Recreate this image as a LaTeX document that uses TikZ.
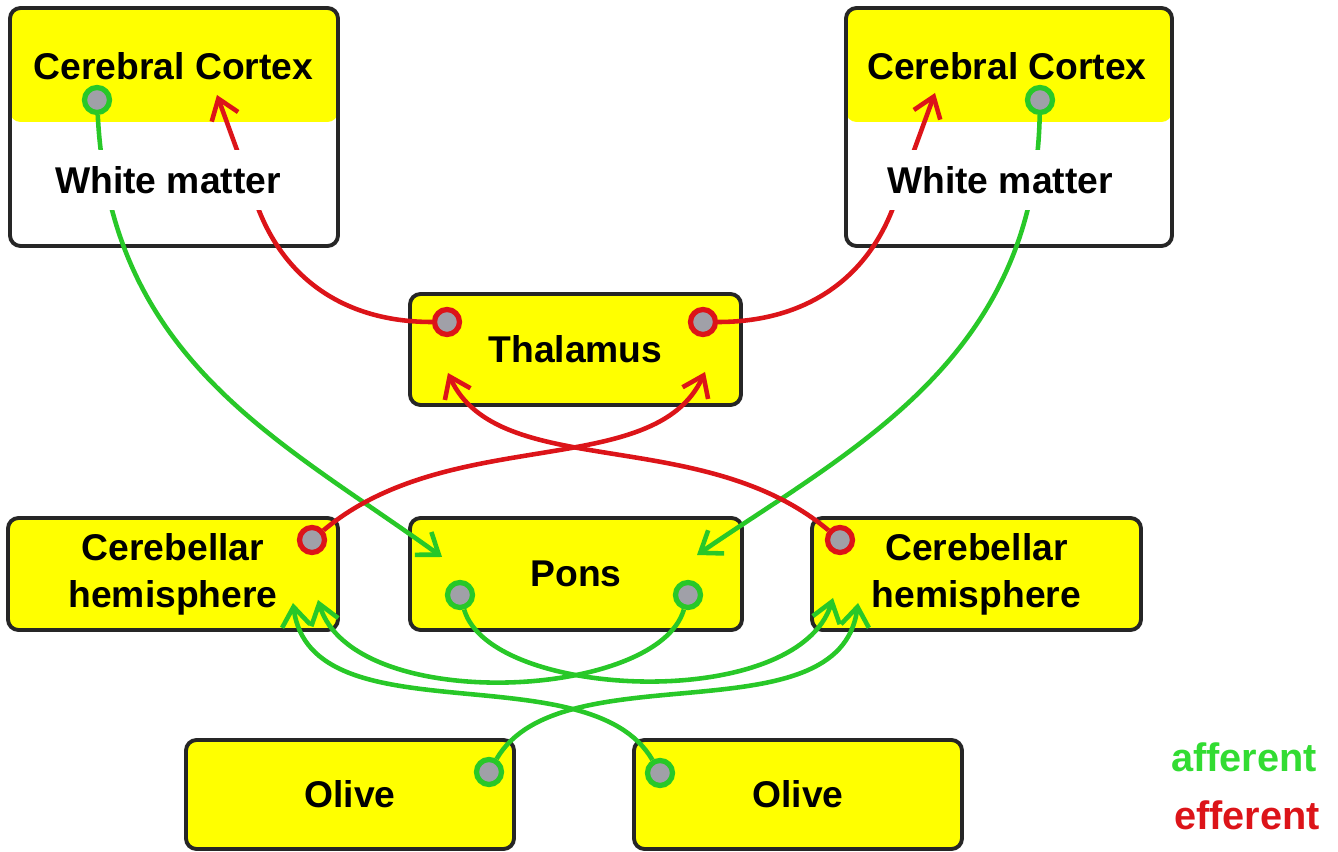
\documentclass[tikz,border=0pt]{standalone}
\usepackage{fontspec}
\setmainfont{Liberation Sans}
\usetikzlibrary{calc,positioning,arrows.meta}
\definecolor{boxyellow}{RGB}{255,255,0}
\definecolor{affgreen}{RGB}{40,200,40}
\definecolor{effred}{RGB}{220,20,25}
\definecolor{leggreen}{RGB}{50,220,50}
\definecolor{dotgray}{RGB}{160,160,168}

\begin{document}
\begin{tikzpicture}[font=\fontsize{10.6}{13.4}\selectfont\bfseries,
  box/.style={draw=black!85,line width=1.1pt,rounded corners=3pt,fill=boxyellow,align=center},
  ctx/.style={box,fill=white,path picture={\fill[boxyellow] (path picture bounding box.north west) rectangle ([yshift=-1.14cm]path picture bounding box.north east);}},
  dot/.style={circle,fill=dotgray,line width=1.5pt,minimum size=0.25cm,inner sep=0pt},
  aff/.style={draw=affgreen,line width=1.3pt,-{Straight Barb[length=5.5pt,width=8pt]}},
  eff/.style={draw=effred,line width=1.3pt,-{Straight Barb[length=5.5pt,width=8pt]}}]
  \useasboundingbox (0,0) rectangle (13.38,-8.52);

  % boxes
  \node[ctx,minimum width=3.28cm,minimum height=2.38cm] (c1) at (1.74,-1.27) {};
  \node[ctx,minimum width=3.26cm,minimum height=2.38cm] (c2) at (10.09,-1.27) {};
  \node[box,minimum width=3.31cm,minimum height=1.11cm] (t) at (5.755,-3.495) {Thalamus};
  \node[box,minimum width=3.30cm,minimum height=1.12cm] (h1) at (1.73,-5.74) {Cerebellar\\hemisphere};
  \node[box,minimum width=3.32cm,minimum height=1.12cm] (p) at (5.76,-5.74) {Pons};
  \node[box,minimum width=3.29cm,minimum height=1.12cm] (h2) at (9.765,-5.74) {Cerebellar\\hemisphere};
  \node[box,minimum width=3.28cm,minimum height=1.09cm] (o1) at (3.50,-7.945) {Olive};
  \node[box,minimum width=3.28cm,minimum height=1.09cm] (o2) at (7.98,-7.945) {Olive};
  \node (cc1) at (1.735,-0.66) {Cerebral Cortex};
  \node (cc2) at (10.07,-0.66) {Cerebral Cortex};

  % cells
  \node[dot,draw=affgreen] (c1s) at (0.97,-1.00) {};
  \node[dot,draw=affgreen] (c2s) at (10.40,-1.00) {};
  \node[dot,draw=effred] (t1) at (4.47,-3.22) {};
  \node[dot,draw=effred] (t2) at (7.03,-3.22) {};
  \node[dot,draw=effred] (h1s) at (3.12,-5.40) {};
  \node[dot,draw=effred] (h2s) at (8.40,-5.40) {};
  \node[dot,draw=affgreen] (p1) at (4.60,-5.95) {};
  \node[dot,draw=affgreen] (p2) at (6.88,-5.95) {};
  \node[dot,draw=affgreen] (o1s) at (4.89,-7.72) {};
  \node[dot,draw=affgreen] (o2s) at (6.60,-7.73) {};

  % arrow ends
  \coordinate (w1) at (2.58,-2.08);
  \coordinate (w2) at (8.93,-2.08);
  \coordinate (a1) at (2.17,-0.95);
  \coordinate (a2) at (9.35,-0.93);
  \coordinate (pa1) at (4.42,-5.57);
  \coordinate (pa2) at (6.97,-5.55);
  \coordinate (ta1) at (4.48,-3.73);
  \coordinate (ta2) at (7.05,-3.72);
  \coordinate (ha1) at (3.18,-6.00);
  \coordinate (hb1) at (2.93,-6.03);
  \coordinate (ha2) at (8.33,-5.98);
  \coordinate (hb2) at (8.58,-6.03);

  \draw[eff] (t1) to[out=180,in=-69] (w1) -- (a1);
  \draw[eff] (t2) to[out=0,in=-111] (w2) -- (a2);
  \draw[aff] (c1s) .. controls +(0.13,-2.6) and +(-1.62,1.17) .. (pa1);
  \draw[aff] (c2s) .. controls +(-0.05,-2.6) and +(1.53,1.05) .. (pa2);
  \draw[eff] (h1s) .. controls +(1.38,1.16) and +(-0.5,-1.09) .. (ta2);
  \draw[eff] (h2s) .. controls +(-1.38,1.16) and +(0.5,-1.09) .. (ta1);
  \draw[aff] (p1) .. controls +(0.30,-1.05) and +(-0.35,-1.15) .. (ha2);
  \draw[aff] (p2) .. controls +(-0.30,-1.05) and +(0.35,-1.15) .. (ha1);
  \draw[aff] (o1s) .. controls +(0.71,1.22) and +(-0.18,-1.37) .. (hb2);
  \draw[aff] (o2s) .. controls +(-0.71,1.22) and +(0.18,-1.37) .. (hb1);

  \node[fill=white,minimum height=0.6cm,inner sep=2pt] (wm1) at (1.68,-1.80) {White matter};
  \node[fill=white,minimum height=0.6cm,inner sep=2pt] (wm2) at (10.00,-1.80) {White matter};

  % legend
  \node[text=leggreen,font=\fontsize{11.3}{13}\selectfont\bfseries] (lg1) at (12.44,-7.57) {afferent};
  \node[text=effred,font=\fontsize{11.3}{13}\selectfont\bfseries] (lg2) at (12.47,-8.15) {efferent};
\end{tikzpicture}
\end{document}
